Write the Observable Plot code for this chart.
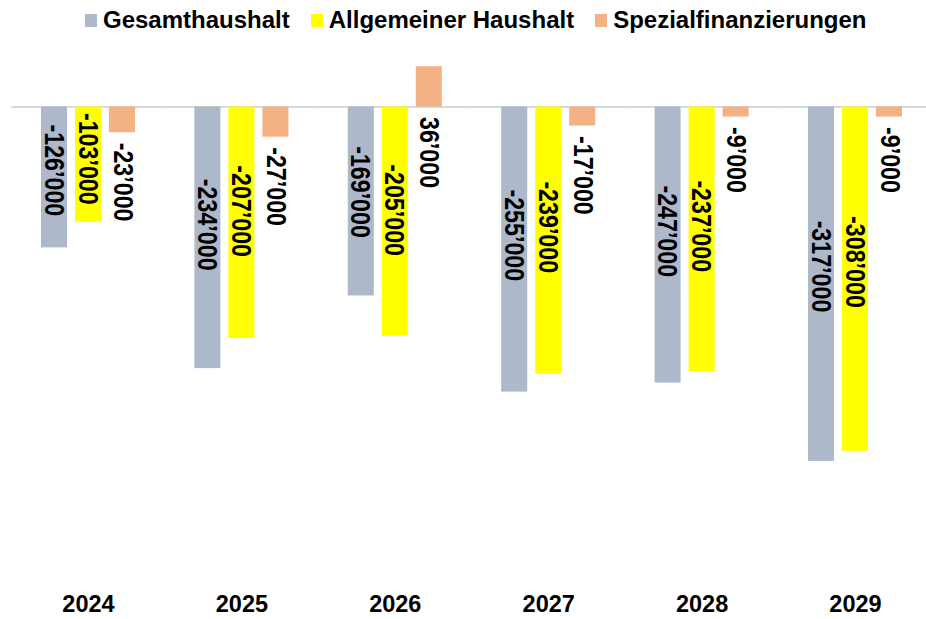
<!DOCTYPE html>
<html><head><meta charset="utf-8">
<script src="https://cdn.jsdelivr.net/npm/d3@7"></script>
<script src="https://cdn.jsdelivr.net/npm/@observablehq/plot@0.6"></script>
<style>
html,body{margin:0;background:#fff;font-family:"Liberation Sans",Arial,sans-serif;overflow:hidden;}
#legend{height:40px;display:flex;align-items:center;padding-left:85px;box-sizing:border-box;font-weight:bold;font-size:24px;color:#000;}
#legend .item{display:flex;align-items:center;margin-right:21px;}
#legend .sw{width:12px;height:13px;margin-right:6px;display:inline-block;}
</style></head><body>
<div id="legend"></div><div id="chart"></div>
<script>
const years = ["2024","2025","2026","2027","2028","2029"];
const series = ["Gesamthaushalt","Allgemeiner Haushalt","Spezialfinanzierungen"];
const gesamt = [-126000,-234000,-169000,-255000,-247000,-317000];
const allgemein = [-103000,-207000,-205000,-239000,-237000,-308000];
const spezial = [-23000,-27000,36000,-17000,-9000,-9000];
const colors = ["#ADB9CA","#FFFF00","#F4B183"];

const data = years.flatMap((y,i)=>[
  {year:y, series:series[0], value:gesamt[i]},
  {year:y, series:series[1], value:allgemein[i]},
  {year:y, series:series[2], value:spezial[i]}
]);
const fmt = d3.formatLocale({decimal:".",thousands:"’",grouping:[3],currency:["",""],minus:"-"}).format(",");

const legend = document.getElementById("legend");
series.forEach((s,i)=>{
  const it=document.createElement("div");it.className="item";
  const sw=document.createElement("span");sw.className="sw";sw.style.background=colors[i];
  const t=document.createElement("span");t.textContent=s;
  it.appendChild(sw);it.appendChild(t);legend.appendChild(it);
});

const font = '"Liberation Sans", Arial, sans-serif';
const plot = Plot.plot({
  width:926, height:579, marginTop:10.6, marginBottom:65.3, marginLeft:11.3, marginRight:0,
  style:{fontFamily:font, background:"#fff", color:"#000", overflow:"hidden"},
  fx:{domain:years, paddingInner:0, paddingOuter:0, range:[11.3, 931.7], round:false, label:null},
  x:{domain:series, paddingInner:0.235, paddingOuter:0.873, round:false, axis:null},
  y:{domain:[-400000,50000], axis:null},
  color:{domain:series, range:colors},
  marks:[
    Plot.ruleY([0], {stroke:"#d9d9d9", strokeWidth:2}),
    Plot.barY(data, {fx:"year", x:"series", y:"value", fill:"series"}),
    Plot.text(data.filter(d=>d.series!==series[2]), {fx:"year", x:"series", y:d=>d.value*0.45, text:d=>fmt(d.value), rotate:90, dx:-1, fontSize:28, fontWeight:"bold", fill:"#000"}),
    Plot.text(data.filter(d=>d.series===series[2]), {fx:"year", x:"series", y:d=>Math.min(d.value,0), text:d=>fmt(d.value), rotate:90, textAnchor:"start", dy:10, fontSize:28, fontWeight:"bold", fill:"#000"}),
    Plot.axisFx({anchor:"bottom", tickSize:0, tickPadding:41, fontSize:23.5, fontWeight:"bold", label:null, fill:"#000"})
  ]
});
// condense the rotated value labels along their reading direction (narrow-font look)
plot.querySelectorAll('g[aria-label="text"] text').forEach(t=>{
  const tr = t.getAttribute("transform") || "";
  t.setAttribute("transform", tr + " scale(0.83,1)");
});
document.getElementById("chart").appendChild(plot);
</script>
</body></html>
